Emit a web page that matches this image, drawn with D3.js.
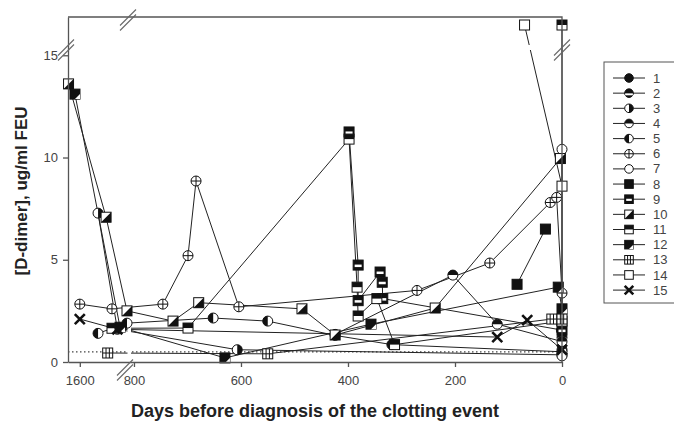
<!DOCTYPE html>
<html lang="en">
<head>
<meta charset="UTF-8" />
<title>D-dimer before the clotting event</title>
<style>
  body { margin: 0; background: #fff; font-family: "Liberation Sans", Arial, sans-serif; }
  .axis path, .axis line { stroke: #555; stroke-width: 1.3; }
  .axis text { fill: #444; font-size: 13px; font-family: "Liberation Sans", Arial, sans-serif; }
  .title { font-weight: bold; fill: #222; }
</style>
</head>
<body>
<svg width="674" height="425"></svg>
<script src="https://cdn.jsdelivr.net/npm/d3@7"></script>
<script>
const xTicks = [1600, 800, 600, 400, 200, 0];
const yTicks = [0, 5, 10, 15];
const patients = ["1","2","3","4","5","6","7","8","9","10","11","12","13","14","15"];

// [days before diagnosis, D-dimer ug/ml FEU]
const p1 = [[1, 1.55], [0, 0.6]];
const p2 = [[1, 1.9], [0, 1.2]];
const p3 = [[1566, 7.28], [1530, 1.6], [607, 0.6], [0, 0.35]];
const p4 = [[424, 1.35], [204, 4.25], [121, 1.85], [0, 1.0]];
const p5 = [[1566, 1.4], [1512, 1.9], [652, 2.15], [550, 2.0], [424, 1.3], [318, 0.85], [0, 0.5]];
const p6 = [[1600, 2.83], [1540, 2.6], [746, 2.83], [699, 5.2], [684, 8.85], [604, 2.7], [271, 3.5], [135, 4.84], [22, 7.8], [10, 8.05], [0, 3.37]];
const p7 = [[0, 10.4], [0, 0.3]];
const p8 = [[84, 3.8], [31, 6.5]];
const p9 = [[398, 11.25], [381, 4.74], [381, 3.0], [340, 4.4], [336, 3.9], [335, 3.1], [0, 1.56]];
const p10 = [[1621, 13.6], [1551, 7.08], [1512, 2.5], [727, 2.0], [679, 2.9], [486, 2.6], [424, 1.32], [237, 2.64], [3, 9.95]];
const p11 = [[1540, 1.65], [699, 1.66], [398, 10.9], [383, 3.66], [381, 2.25], [346, 3.1], [313, 0.85], [0, 2.0], [0, 22.8]];
const p12 = [[1609, 13.1], [1525, 1.7], [630, 0.2], [357, 1.85], [7, 3.66], [0, 2.6]];
const p13 = [[1548, 0.44], [550, 0.4], [19, 2.1], [0, 2.1]];
const p14 = [[70, 22.8], [0, 8.6]];
const p15 = [[1600, 2.1], [1530, 1.6], [121, 1.22], [65, 2.05], [0, 0.6]];
const refLevel = 0.5;

const allSeries = [p1, p2, p3, p4, p5, p6, p7, p8, p9, p10, p11, p12, p13, p14, p15];

const svg = d3.select("svg");

// broken axes: 1622..1512 | 805..0 days, 0..15.6 | 16..26
const x = d3.scaleLinear().domain([1622, 1512, 805, 0]).range([68, 127, 131.3, 562]);
const y = d3.scaleLinear().domain([0, 15.6, 16, 26]).range([362, 43, 42, 17]);

const line = d3.line().x(d => x(d[0])).y(d => y(d[1]));

// dotted reference line
svg.append("line")
  .attr("x1", 68).attr("x2", 562)
  .attr("y1", y(refLevel)).attr("y2", y(refLevel))
  .attr("stroke", "#444").attr("stroke-width", 1.2)
  .attr("stroke-dasharray", "1.5,2.5");

const K = "#111";
function marker(g, type, r) {
  const circ = () => g.append("circle").attr("r", r).attr("fill", "#fff").attr("stroke", K).attr("stroke-width", 1);
  const sq = () => g.append("rect").attr("x", -r).attr("y", -r).attr("width", 2 * r).attr("height", 2 * r)
    .attr("fill", "#fff").attr("stroke", K).attr("stroke-width", 1);
  const fillPath = (d) => g.append("path").attr("d", d).attr("fill", K);
  switch (type) {
    case 1: circ().attr("fill", K); break;
    case 2: {
      circ().attr("fill", K);
      const w = r * 0.9;
      g.append("rect").attr("x", -w).attr("y", r * 0.05).attr("width", 2 * w).attr("height", r * 0.45).attr("fill", "#fff");
      break;
    }
    case 3: circ(); fillPath(`M0,${-r}A${r},${r} 0 0 1 0,${r}Z`); break;
    case 4: circ(); fillPath(`M${-r},0A${r},${r} 0 0 1 ${r},0Z`); break;
    case 5: circ(); fillPath(`M0,${-r}A${r},${r} 0 0 0 0,${r}Z`); break;
    case 6:
      circ();
      g.append("path").attr("d", `M${-r},0H${r}M0,${-r}V${r}`).attr("stroke", K).attr("stroke-width", 1);
      break;
    case 7: circ(); break;
    case 8: sq().attr("fill", K); break;
    case 9:
      sq().attr("fill", K);
      g.append("rect").attr("x", -r + 1.5).attr("y", -r * 0.1).attr("width", 2 * r - 3).attr("height", r * 0.5).attr("fill", "#fff");
      break;
    case 10: sq(); fillPath(`M${r},${-r}L${r},${r}L${-r},${r}Z`); break;
    case 11: sq(); fillPath(`M${-r},${-r}H${r}V0H${-r}Z`); break;
    case 12: sq().attr("fill", K); fillPath(`M${r},0L${r},${r}L0,${r}Z`).attr("fill", "#fff"); break;
    case 13:
      sq();
      g.append("path").attr("d", `M${-r},0H${r}M${-r / 3},${-r}V${r}M${r / 3},${-r}V${r}`)
        .attr("stroke", K).attr("stroke-width", 1);
      break;
    case 14: sq(); break;
    case 15:
      g.append("path").attr("d", `M${-r},${-r}L${r},${r}M${-r},${r}L${r},${-r}`)
        .attr("stroke", K).attr("stroke-width", 2.6);
      break;
  }
}

// series: lines first, then symbols
allSeries.forEach((data) => {
  svg.append("path").datum(data)
    .attr("d", line)
    .attr("fill", "none").attr("stroke", "#222").attr("stroke-width", 1);
});

// white gaps at the axis breaks
svg.append("rect").attr("x", 127.5).attr("y", 18).attr("width", 3.5).attr("height", 343).attr("fill", "#fff");
svg.append("rect").attr("x", 69).attr("y", 45).attr("width", 489).attr("height", 5).attr("fill", "#fff");

allSeries.forEach((data, i) => {
  svg.append("g").selectAll("g")
    .data(data)
    .join("g")
    .attr("transform", d => `translate(${x(d[0])},${y(d[1])})`)
    .each(function () { marker(d3.select(this), i + 1, 5); });
});

// axes and frame
svg.append("g").attr("class", "axis")
  .attr("transform", "translate(0,362)")
  .call(d3.axisBottom(x).tickValues(xTicks).tickFormat(d3.format("d"))
    .tickSize(5).tickSizeOuter(0).tickPadding(9));
svg.append("g").attr("class", "axis")
  .attr("transform", "translate(68,0)")
  .call(d3.axisLeft(y).tickValues(yTicks).tickSize(5).tickSizeOuter(0).tickPadding(5));
svg.append("path").attr("d", "M68,17H562V362")
  .attr("fill", "none").attr("stroke", "#555").attr("stroke-width", 1.3);

// break marks
function brk(cx, cy) {
  [-2.5, 2.5].forEach(o => {
    svg.append("line")
      .attr("x1", cx - 8).attr("y1", cy + 8 + o)
      .attr("x2", cx + 8).attr("y2", cy - 8 + o)
      .attr("stroke", "#666").attr("stroke-width", 1.1);
  });
}
brk(128, 20);
brk(125, 370);
brk(66, 50);
brk(562, 50);

// axis titles
svg.append("text").attr("class", "title")
  .attr("transform", "translate(27,191) rotate(-90)")
  .attr("text-anchor", "middle")
  .style("font-size", "17px")
  .text("[D-dimer], ug/ml FEU");
svg.append("text").attr("class", "title")
  .attr("x", 315).attr("y", 417)
  .attr("text-anchor", "middle")
  .style("font-size", "18px")
  .text("Days before diagnosis of the clotting event");

// legend
const lg = svg.append("g");
lg.append("rect").attr("x", 604).attr("y", 62).attr("width", 90).attr("height", 241)
  .attr("fill", "#fff").attr("stroke", "#555").attr("stroke-width", 1);
const rows = lg.selectAll("g.row").data(patients).join("g")
  .attr("class", "row")
  .attr("transform", (d, i) => `translate(629,${78 + i * 15.15})`);
rows.append("line").attr("x1", -16).attr("x2", 16).attr("stroke", "#222").attr("stroke-width", 1);
rows.each(function (d, i) { marker(d3.select(this), i + 1, 4.3); });
rows.append("text").attr("x", 24).attr("dy", "0.35em")
  .style("font-size", "13px").style("fill", "#444")
  .text(d => d);
</script>
</body>
</html>
